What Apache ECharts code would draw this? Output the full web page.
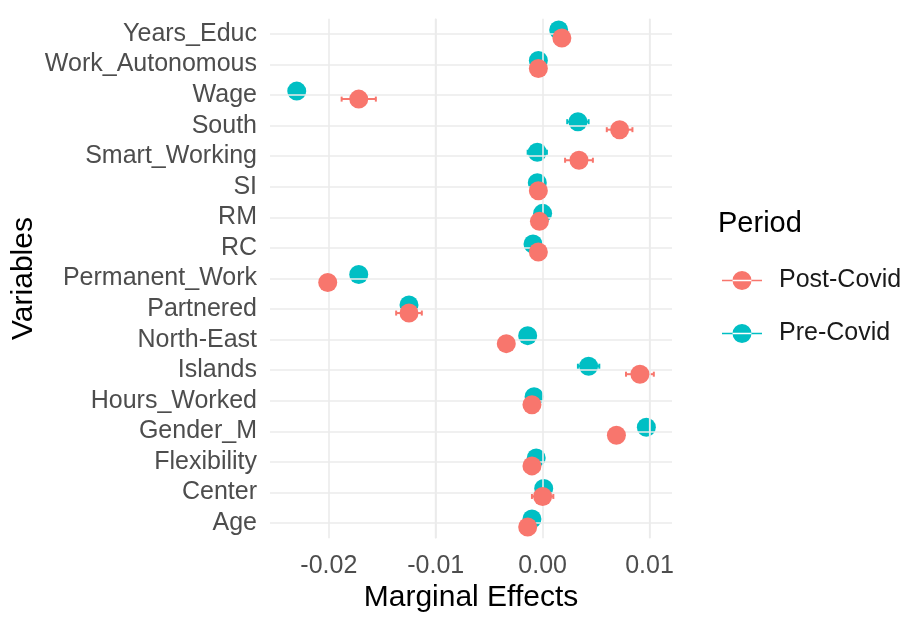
<!DOCTYPE html>
<html>
<head>
<meta charset="utf-8">
<script src="https://cdn.jsdelivr.net/npm/echarts@6/dist/echarts.min.js"></script>
<style>
  html, body { margin: 0; padding: 0; background: #ffffff; }
  #chart { width: 907px; height: 617px; }
</style>
</head>
<body>
<div id="chart"></div>
<script>
// Variables, listed bottom to top
const variables = ['Age', 'Center', 'Flexibility', 'Gender_M', 'Hours_Worked', 'Islands',
  'North-East', 'Partnered', 'Permanent_Work', 'RC', 'RM', 'SI', 'Smart_Working',
  'South', 'Wage', 'Work_Autonomous', 'Years_Educ'];

// Marginal effects and half-widths of their intervals
const postCovid    = [-0.0014, 0.0000, -0.0010, 0.0069, -0.0010, 0.0091, -0.0034, -0.0125, -0.0201, -0.0004, -0.0003, -0.0004, 0.0034, 0.0072, -0.0172, -0.0004, 0.0018];
const postCovidErr = [0.0007, 0.0010, 0.0006, 0.0006, 0.0006, 0.0013, 0.0006, 0.0012, 0.0007, 0.0005, 0.0005, 0.0005, 0.0013, 0.0012, 0.0016, 0.0005, 0.0006];
const preCovid     = [-0.0010, 0.0001, -0.0006, 0.0097, -0.0008, 0.0043, -0.0014, -0.0125, -0.0172, -0.0009, 0.0000, -0.0005, -0.0005, 0.0033, -0.0230, -0.0004, 0.0015];
const preCovidErr  = [0.0006, 0.0007, 0.0005, 0.0006, 0.0005, 0.0010, 0.0006, 0.0006, 0.0006, 0.0005, 0.0005, 0.0005, 0.0009, 0.0010, 0.0007, 0.0005, 0.0006];

// Axis range and grid positions on the x axis
const xRange = [-0.0255, 0.0121];
const majorTicks = [-0.02, -0.01, 0.00, 0.01];
const minorTicks = [-0.025, -0.015, -0.005, 0.005];

const FONT = '"Liberation Sans", Arial, sans-serif';
const RED = '#F8766D';
const TEAL = '#00BFC4';
const GRID_COLOR = '#EBEBEB';
const DODGE = 4; // vertical pixel shift between the two periods

const chart = echarts.init(document.getElementById('chart'), null, { renderer: 'canvas' });

function toPoints(values) {
  return values.map((v, i) => [v, i]);
}
function toIntervals(values, errs) {
  return values.map((v, i) => [v - errs[i], v + errs[i], i]);
}

function errorBarRenderer(color, shift) {
  return function (params, api) {
    const cat = api.value(2);
    const a = api.coord([api.value(0), cat]);
    const b = api.coord([api.value(1), cat]);
    const cy = a[1] + shift;
    const cap = 2.5;
    const style = { stroke: color, lineWidth: 2, fill: null };
    return {
      type: 'group',
      children: [
        { type: 'line', shape: { x1: a[0], y1: cy, x2: b[0], y2: cy }, style: style },
        { type: 'line', shape: { x1: a[0], y1: cy - cap, x2: a[0], y2: cy + cap }, style: style },
        { type: 'line', shape: { x1: b[0], y1: cy - cap, x2: b[0], y2: cy + cap }, style: style }
      ]
    };
  };
}

const gridLines = [].concat(
  majorTicks.map(v => ({ xAxis: v, lineStyle: { width: 1.6 } })),
  minorTicks.map(v => ({ xAxis: v, lineStyle: { width: 1.2 } })),
  variables.map(name => ({ yAxis: name, lineStyle: { width: 1.6 } }))
);

// Legend key: short line with a dot in the middle
const legendIcon = 'path://M0,9.2h40v1.6h-40z M20,0.5a9.5,9.5 0 1,0 0.001,0z';

chart.setOption({
  animation: false,
  backgroundColor: '#ffffff',
  textStyle: { fontFamily: FONT },
  title: {
    text: 'Period',
    left: 718,
    top: 209,
    padding: 0,
    textStyle: { fontFamily: FONT, fontSize: 29, fontWeight: 'normal', color: '#000000' }
  },
  legend: {
    orient: 'vertical',
    left: 722,
    top: 268,
    itemWidth: 40,
    itemHeight: 20,
    itemGap: 28,
    padding: 0,
    data: [
      { name: 'Post-Covid', icon: legendIcon, itemStyle: { color: RED } },
      { name: 'Pre-Covid', icon: legendIcon, itemStyle: { color: TEAL } }
    ],
    textStyle: { fontFamily: FONT, fontSize: 25, color: '#1A1A1A', padding: [0, 0, 0, 12] }
  },
  grid: {
    left: 270,
    right: 235,
    top: 18.7,
    bottom: 78.7,
    containLabel: false,
    outerBoundsMode: 'none'
  },
  xAxis: {
    type: 'value',
    min: xRange[0],
    max: xRange[1],
    name: 'Marginal Effects',
    nameLocation: 'middle',
    nameGap: 44,
    nameTextStyle: { fontFamily: FONT, fontSize: 30, color: '#000000' },
    axisLine: { show: false },
    axisTick: { show: false },
    splitLine: { show: false },
    axisLabel: {
      showMinLabel: false,
      showMaxLabel: false,
      margin: 15,
      fontFamily: FONT,
      fontSize: 25,
      color: '#4D4D4D',
      formatter: v => v.toFixed(2)
    }
  },
  yAxis: {
    type: 'category',
    data: variables,
    name: 'Variables',
    nameLocation: 'middle',
    nameRotate: 90,
    nameGap: 231,
    nameTextStyle: { fontFamily: FONT, fontSize: 30, color: '#000000' },
    axisLine: { show: false },
    axisTick: { show: false },
    splitLine: { show: false },
    axisLabel: {
      margin: 13,
      padding: [4, 0, 0, 0],
      fontFamily: FONT,
      fontSize: 25,
      color: '#4D4D4D',
      interval: 0
    }
  },
  series: [
    {
      name: 'grid',
      type: 'scatter',
      data: [],
      silent: true,
      z: 0,
      markLine: {
        silent: true,
        symbol: 'none',
        label: { show: false },
        animation: false,
        lineStyle: { color: GRID_COLOR, type: 'solid' },
        data: gridLines
      }
    },
    {
      name: 'Pre-Covid',
      type: 'custom',
      renderItem: errorBarRenderer(TEAL, -DODGE),
      encode: { x: [0, 1], y: 2 },
      data: toIntervals(preCovid, preCovidErr),
      z: 2
    },
    {
      name: 'Post-Covid',
      type: 'custom',
      renderItem: errorBarRenderer(RED, DODGE),
      encode: { x: [0, 1], y: 2 },
      data: toIntervals(postCovid, postCovidErr),
      z: 3
    },
    {
      name: 'Pre-Covid',
      type: 'scatter',
      symbol: 'circle',
      symbolSize: 19,
      symbolOffset: [0, -DODGE],
      itemStyle: { color: TEAL, opacity: 1 },
      data: toPoints(preCovid),
      z: 4
    },
    {
      name: 'Post-Covid',
      type: 'scatter',
      symbol: 'circle',
      symbolSize: 19,
      symbolOffset: [0, DODGE],
      itemStyle: { color: RED, opacity: 1 },
      data: toPoints(postCovid),
      z: 5
    }
  ]
});
</script>
</body>
</html>
